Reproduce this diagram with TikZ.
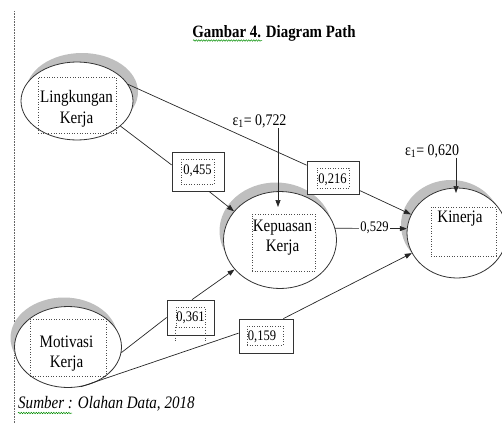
\documentclass[tikz,border=0pt]{standalone}
\usepackage{fontspec}
\setmainfont{Liberation Serif}[FakeStretch=0.86]
\usetikzlibrary{arrows.meta,calc,decorations.pathmorphing,shapes.geometric}
\begin{document}
\begin{tikzpicture}[x=1pt,y=-1pt,
  shad/.style={ellipse,fill=black!25,draw=none,inner sep=0pt},
  var/.style={ellipse,draw=black!80,fill=white,line width=0.8pt,inner sep=0pt},
  dotbox/.style={draw=black!70,dotted,line width=0.6pt,inner sep=0pt},
  lblbox/.style={draw=black!80,fill=white,line width=0.8pt,inner sep=0pt},
  big/.style={font=\fontsize{17.5}{20}\selectfont,anchor=base,inner sep=0pt},
  num/.style={font=\fontsize{14.6}{17}\selectfont,anchor=base,inner sep=0pt},
  eps/.style={font=\fontsize{16.2}{19}\selectfont,anchor=base,inner sep=0pt},
  conn/.style={draw=black!85,line width=0.7pt},
  arr/.style={conn,-{Triangle[length=7pt,width=5pt]}},
  squig/.style={draw=green!55!black,line width=0.5pt,decorate,decoration={snake,segment length=2.5pt,amplitude=0.7pt}},
]
\useasboundingbox (0,0) rectangle (502,423);
\clip (0,0) rectangle (502,423);

% left dotted margin line
\draw[black!60,dash pattern=on 0.7pt off 0.9pt,line width=0.7pt] (14,11) -- (14,423);

% title
\node[anchor=base,font=\bfseries\fontsize{17.3}{20}\selectfont,inner sep=0pt] (title) at (274,37) {Gambar 4. Diagram Path};
\draw[squig] (193,40.5) -- (262,40.5);

% Lingkungan Kerja
\node[shad,minimum width=112pt,minimum height=78pt] (lks) at (82,92) {};
\node[var,minimum width=112pt,minimum height=78pt] (lk) at (77,101) {};
\node[dotbox,minimum width=78pt,minimum height=56pt] (lkr) at (77,105) {};
\node[big] (lkt1) at (76.5,102) {Lingkungan};
\node[big] (lkt2) at (76.5,123) {Kerja};

% Kepuasan Kerja
\node[shad,minimum width=113pt,minimum height=97pt] (kps) at (276,231) {};
\node[var,minimum width=113pt,minimum height=97pt] (kp) at (280,240) {};
\node[dotbox,minimum width=63pt,minimum height=57pt] (kpr) at (283.5,242.5) {};
\node[big] (kpt1) at (282.5,231.7) {Kepuasan};
\node[big] (kpt2) at (282.5,251.7) {Kerja};

% Kinerja
\node[shad,minimum width=100pt,minimum height=90pt] (kis) at (451,225) {};
\node[var,minimum width=100pt,minimum height=90pt] (ki) at (457,233) {};
\node[dotbox,minimum width=65pt,minimum height=49pt] (kir) at (463.5,231.5) {};
\node[big] (kit) at (460,222) {Kinerja};

% Motivasi Kerja
\node[shad,minimum width=107pt,minimum height=81pt] (mos) at (64,338) {};
\node[var,minimum width=107pt,minimum height=81pt] (mo) at (68,347) {};
\node[dotbox,minimum width=76pt,minimum height=57pt] (mor) at (68,347.5) {};
\node[big] (mot1) at (66.5,347) {Motivasi};
\node[big] (mot2) at (66.5,367) {Kerja};

% coefficient boxes
\node[lblbox,minimum width=52pt,minimum height=39pt] (b455) at (198,171.5) {};
\node[dotbox,minimum width=33pt,minimum height=25pt] (b455i) at (197.5,171.5) {};
\node[num] (t455) at (197.5,174.3) {0,455};

\node[lblbox,minimum width=52pt,minimum height=33pt] (b216) at (333,177.5) {};
\node[dotbox,minimum width=32pt,minimum height=20pt] (b216i) at (333,178) {};
\node[num] (t216) at (332.5,183.3) {0,216};

\node[lblbox,minimum width=47pt,minimum height=35pt] (b361) at (190.5,317.5) {};
\node[dotbox,minimum width=29pt,minimum height=20pt] (b361i) at (190.5,317) {};
\draw[black!70,dotted,line width=0.6pt] (b361i.south west) -- ++(0,15);
\draw[black!70,dotted,line width=0.6pt] (b361i.south east) -- ++(0,15);
\node[num] (t361) at (190.5,321.7) {0,361};

\node[lblbox,minimum width=54pt,minimum height=34pt] (b159) at (266,336) {};
\node[dotbox,minimum width=36pt,minimum height=19pt] (b159i) at (265,335.5) {};
\node[num] (t159) at (262,340) {0,159};

% connectors
\draw[conn] (lk.18) -- (b216.155);
\draw[arr] (b216.-26) -- (ki.158);
\draw[conn] (lk.-30) -- (b455.166);
\draw[arr] (b455.-61) -- (kp.148);
\draw[conn] (mo.-6) -- (b361.west);
\draw[arr] (b361.85) -- (kp.213);
\draw[conn] (mo.-72) -- (b159.174);
\draw[arr] (b159.45) -- (ki.204);
\draw[arr] (kp.12) -- (ki.175);
\node[num,fill=white,inner xsep=1pt] (t529) at (374.5,231.7) {0,529};

% error terms
\node[eps] (e1) at (259.5,125) {ε\textsubscript{1}= 0,722};
\coordinate (e1tip) at (278,207);
\draw[arr] (e1tip |- e1.south) -- (e1tip);
\node[eps] (e2) at (432,155) {ε\textsubscript{1}= 0,620};
\coordinate (e2tip) at (456,193);
\draw[arr] (e2tip |- e2.south) -- (e2tip);

% source
\node[anchor=base west,font=\itshape\fontsize{17.5}{20}\selectfont,inner sep=0pt] (src) at (18,408) {Sumber : Olahan Data, 2018};
\draw[squig] (18,413) -- (72,413);
\end{tikzpicture}
\end{document}
